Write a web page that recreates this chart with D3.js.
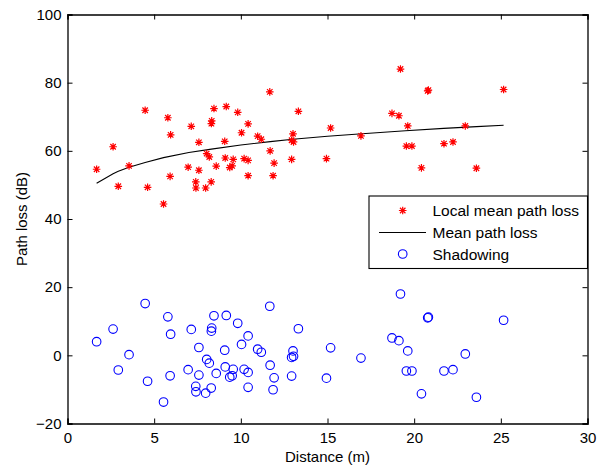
<!DOCTYPE html>
<html>
<head>
<meta charset="utf-8">
<script src="https://cdn.jsdelivr.net/npm/d3@7"></script>
<style>
  html, body { margin: 0; padding: 0; background: #fff; }
  svg { display: block; }
  text { font-family: "Liberation Sans", Arial, Helvetica, sans-serif; fill: #000; }
</style>
</head>
<body>
<svg id="chart" width="610" height="467"></svg>
<script>
// Distances (m) of each measurement point
const distances = [1.68, 2.63, 2.93, 3.55, 4.48, 4.62, 5.54, 5.79, 5.95, 5.92,
  6.96, 7.14, 7.58, 7.58, 7.40, 7.41, 7.97, 8.29, 8.03, 8.18,
  8.32, 8.30, 8.45, 8.58, 9.07, 9.16, 9.10, 9.36, 9.50, 9.56,
  9.82, 10.04, 10.19, 10.42, 10.42, 10.42, 10.97, 11.18, 11.67, 11.69,
  11.92, 11.86, 13.32, 13.01, 12.93, 13.04, 12.93, 15.18, 14.94, 16.93,
  19.21, 20.78, 20.82, 18.72, 19.12, 19.63, 22.95, 25.16, 19.55, 19.87,
  21.72, 22.24, 20.42, 23.59];
// Local mean path loss (dB)
const localMean = [54.6, 61.2, 49.6, 55.6, 71.9, 49.3, 44.4, 69.7, 64.7, 52.5,
  55.2, 67.2, 62.5, 54.3, 50.9, 49.1, 49.1, 50.9, 59.2, 58.2,
  68.8, 68.0, 72.4, 55.5, 62.8, 73.0, 57.9, 55.1, 55.6, 57.5,
  71.3, 65.3, 57.7, 67.9, 57.2, 52.7, 64.3, 63.4, 77.3, 60.0,
  56.4, 52.7, 71.6, 65.0, 63.1, 62.6, 57.5, 66.7, 57.7, 64.4,
  84.0, 77.6, 77.8, 71.0, 70.3, 67.3, 67.3, 78.0, 61.4, 61.4,
  62.1, 62.6, 55.0, 54.9];
// Shadowing (dB)
const shadowing = [4.0, 7.7, -4.3, 0.2, 15.2, -7.6, -13.7, 11.3, 6.2, -6.0,
  -4.2, 7.6, 2.3, -5.8, -9.1, -10.7, -11.1, -9.6, -1.2, -2.3,
  8.0, 7.1, 11.6, -5.3, 1.5, 11.7, -3.4, -6.4, -6.0, -4.1,
  9.4, 3.2, -4.1, 5.7, -5.0, -9.4, 1.8, 0.9, 14.4, -2.9,
  -6.6, -10.1, 7.8, 1.3, -0.6, -0.3, -6.1, 2.2, -6.7, -0.8,
  18.0, 11.0, 11.2, 5.1, 4.3, 1.3, 0.4, 10.3, -4.6, -4.6,
  -4.6, -4.2, -11.3, -12.3];
// Mean path loss curve
const lineDist = [1.68, 2.63, 2.93, 3.55, 4.48, 5.54, 7.0, 8.3, 10.0, 11.7, 13.0, 15.0, 17.0, 19.5, 21.7, 23.6, 25.16];
const lineLoss = [50.5, 53.3, 54.0, 55.2, 56.6, 58.0, 59.5, 60.5, 61.7, 62.7, 63.4, 64.3, 65.0, 65.9, 66.6, 67.1, 67.5];
// Axis ticks
const xTicks = [0, 5, 10, 15, 20, 25, 30];
const yTicks = [-20, 0, 20, 40, 60, 80, 100];
const legendLabels = ["Local mean path loss", "Mean path loss", "Shadowing"];

(function () {
const svg = d3.select("#chart");
const pLeft = 67.5, pRight = 587.5, pTop = 14.5, pBottom = 423.5;
const x = d3.scaleLinear().domain([0, 30]).range([pLeft, pRight]);
const y = d3.scaleLinear().domain([-20, 100]).range([pBottom, pTop]);
const fs = 15;

svg.append("defs").append("clipPath").attr("id", "clip")
  .append("rect").attr("x", pLeft).attr("y", pTop).attr("width", pRight - pLeft).attr("height", pBottom - pTop);

const tickLen = 5;
function fmt(v) { return v < 0 ? "\u2212" + Math.abs(v) : String(v); }

const gx = svg.append("g").attr("transform", `translate(0,${pBottom})`)
  .call(d3.axisBottom(x).tickValues(xTicks).tickSize(-tickLen).tickPadding(9).tickFormat(fmt));
const gxt = svg.append("g").attr("transform", `translate(0,${pTop})`)
  .call(d3.axisTop(x).tickValues(xTicks).tickSize(-tickLen).tickFormat(""));
const gy = svg.append("g").attr("transform", `translate(${pLeft},0)`)
  .call(d3.axisLeft(y).tickValues(yTicks).tickSize(-tickLen).tickPadding(6).tickFormat(fmt));
const gyr = svg.append("g").attr("transform", `translate(${pRight},0)`)
  .call(d3.axisRight(y).tickValues(yTicks).tickSize(-tickLen).tickFormat(""));
[gx, gxt, gy, gyr].forEach(g => {
  g.select(".domain").attr("stroke", "#000").attr("stroke-width", 1.3);
  g.selectAll(".tick line").attr("stroke", "#000").attr("stroke-width", 1);
  g.selectAll(".tick text").attr("font-size", fs).attr("font-family", "Liberation Sans, Arial, sans-serif").attr("fill", "#000");
});

svg.append("text").attr("x", (pLeft + pRight) / 2).attr("y", 462)
  .attr("text-anchor", "middle").attr("font-size", fs).text("Distance (m)");
svg.append("text").attr("transform", `translate(27,${(pTop + pBottom) / 2}) rotate(-90)`)
  .attr("text-anchor", "middle").attr("font-size", fs).text("Path loss (dB)");

const plot = svg.append("g").attr("clip-path", "url(#clip)");

const s = 3.8, d2 = s * 0.72;
const starPath = `M${-s},0L${s},0M0,${-s}L0,${s}M${-d2},${-d2}L${d2},${d2}M${-d2},${d2}L${d2},${-d2}`;

const lineData = lineDist.map((d, i) => [d, lineLoss[i]]);
plot.append("path").datum(lineData)
  .attr("fill", "none").attr("stroke", "#000").attr("stroke-width", 1.1)
  .attr("d", d3.line().x(d => x(d[0])).y(d => y(d[1])));

plot.selectAll(".star").data(distances).enter().append("path")
  .attr("class", "star")
  .attr("transform", (d, i) => `translate(${x(d)},${y(localMean[i])})`)
  .attr("d", starPath).attr("stroke", "#ff0000").attr("stroke-width", 1.2).attr("fill", "none");

plot.selectAll(".circ").data(distances).enter().append("circle")
  .attr("class", "circ")
  .attr("cx", d => x(d)).attr("cy", (d, i) => y(shadowing[i]))
  .attr("r", 4.3).attr("fill", "none").attr("stroke", "#0000ff").attr("stroke-width", 1.1);

const lg = svg.append("g");
const lx0 = 369, ly0 = 196, lw = pRight - lx0, lh = 72.5;
lg.append("rect").attr("x", lx0).attr("y", ly0).attr("width", lw).attr("height", lh)
  .attr("fill", "#fff").attr("stroke", "#000").attr("stroke-width", 1.1);
const rowY = [210.5, 232.5, 254];
const mx = 402.7, tx = 432.5;
lg.append("path").attr("transform", `translate(${mx},${rowY[0]})`).attr("d", starPath)
  .attr("stroke", "#ff0000").attr("stroke-width", 1.2).attr("fill", "none");
lg.append("line").attr("x1", 379).attr("x2", 426).attr("y1", rowY[1]).attr("y2", rowY[1])
  .attr("stroke", "#000").attr("stroke-width", 1.1);
lg.append("circle").attr("cx", mx).attr("cy", rowY[2]).attr("r", 4.3)
  .attr("fill", "none").attr("stroke", "#0000ff").attr("stroke-width", 1.1);
lg.selectAll(".lt").data(legendLabels).enter().append("text")
  .attr("x", tx).attr("y", (d, i) => rowY[i]).attr("dy", "0.36em")
  .attr("font-size", fs + 0.5).text(d => d);
})();
</script>
</body>
</html>
